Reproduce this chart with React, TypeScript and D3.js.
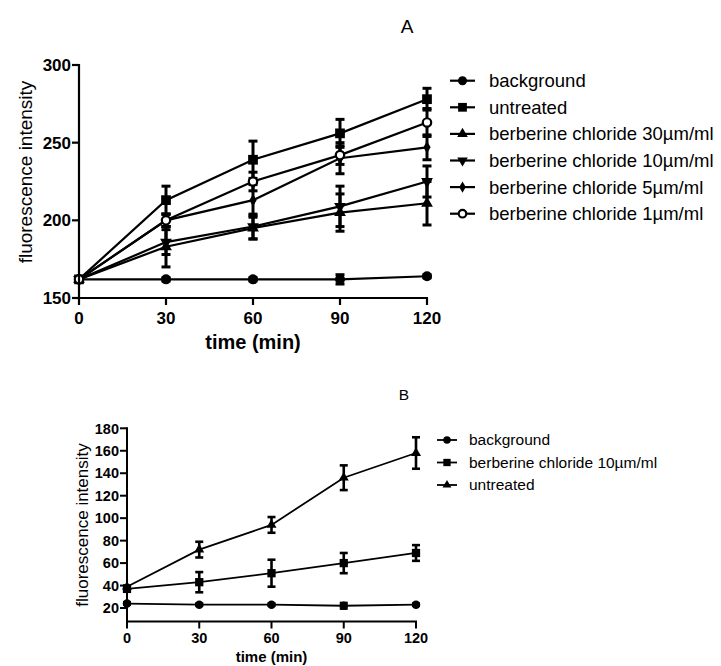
import React from "react";
import * as d3 from "d3";

// ---------- Data ----------
const timesA = [0, 30, 60, 90, 120];
const namesA = [
  "background",
  "untreated",
  "berberine chloride 30µm/ml",
  "berberine chloride 10µm/ml",
  "berberine chloride 5µm/ml",
  "berberine chloride 1µm/ml",
];
const markersA = ["circle", "square", "triangle", "triangleDown", "diamond", "openCircle"];
const backgroundA = [162, 162, 162, 162, 164];
const backgroundErrA = [1, 1, 1, 3, 1];
const untreatedA = [162, 213, 239, 256, 278];
const untreatedErrA = [1, 9, 12, 9, 7];
const bc30A = [162, 183, 195, 205, 211];
const bc30ErrA = [1, 13, 7, 12, 14];
const bc10A = [162, 186, 196, 209, 225];
const bc10ErrA = [1, 8, 8, 13, 10];
const bc5A = [162, 200, 213, 240, 247];
const bc5ErrA = [1, 4, 10, 10, 8];
const bc1A = [162, 200, 225, 242, 263];
const bc1ErrA = [1, 4, 6, 6, 9];
const yTicksA = [150, 200, 250, 300];
const xTicks = [0, 30, 60, 90, 120];

const timesB = [0, 30, 60, 90, 120];
const namesB = ["background", "berberine chloride 10µm/ml", "untreated"];
const markersB = ["circle", "square", "triangle"];
const backgroundB = [24, 23, 23, 22, 23];
const backgroundErrB = [1, 1, 1, 2.5, 1];
const bc10B = [37, 43, 51, 60, 69];
const bc10ErrB = [1, 9, 12, 9, 7];
const untreatedB = [39, 72, 94, 136, 158];
const untreatedErrB = [1, 7, 7, 11, 14];
const yTicksB = [20, 40, 60, 80, 100, 120, 140, 160, 180];

const seriesA = [
  { v: backgroundA, e: backgroundErrA },
  { v: untreatedA, e: untreatedErrA },
  { v: bc30A, e: bc30ErrA },
  { v: bc10A, e: bc10ErrA },
  { v: bc5A, e: bc5ErrA },
  { v: bc1A, e: bc1ErrA },
];
const seriesB = [
  { v: backgroundB, e: backgroundErrB },
  { v: bc10B, e: bc10ErrB },
  { v: untreatedB, e: untreatedErrB },
];

const FONT = "'Liberation Sans', Arial, sans-serif";

function Marker({ type, x, y, s }: { type: string; x: number; y: number; s: number }) {
  if (type === "openCircle") {
    return <circle cx={x} cy={y} r={s * 0.42} fill="#fff" stroke="#000" strokeWidth={2.2} />;
  }
  let sym: any = d3.symbolCircle;
  let area = Math.PI * (s / 2) * (s / 2);
  let rot = 0;
  if (type === "square") {
    sym = d3.symbolSquare;
    area = s * s * 0.95;
  } else if (type === "triangle" || type === "triangleDown") {
    sym = d3.symbolTriangle;
    area = s * s * 0.6;
    if (type === "triangleDown") rot = 180;
  } else if (type === "diamond") {
    sym = d3.symbolDiamond;
    area = s * s * 0.45;
  }
  const p = d3.symbol().type(sym).size(area)() as string;
  return <path d={p} transform={`translate(${x},${y}) rotate(${rot})`} fill="#000" />;
}

type PanelProps = {
  times: number[];
  series: { v: number[]; e: number[] }[];
  markers: string[];
  names: string[];
  yDomain: [number, number];
  yTicks: number[];
  xRange: [number, number];
  yRange: [number, number];
  tickFont: number;
  xTickBase: number;
  labelFont: number;
  xLabelFont: number;
  yLabelX: number;
  yLabelY: number;
  xLabelY: number;
  title: string;
  titleX: number;
  titleY: number;
  titleFont: number;
  legendLineX: [number, number];
  legendTextX: number;
  legendY0: number;
  legendDy: number;
  legendFont: number;
  markerSize: number;
  legendMarkerSize: number;
  lineW: number;
  errW: number;
  capW: number;
  axisW: number;
};

function Panel(p: PanelProps) {
  const x = d3.scaleLinear().domain([0, 120]).range(p.xRange);
  const y = d3.scaleLinear().domain(p.yDomain).range(p.yRange);
  const line = d3
    .line<number>()
    .x((_, i) => x(p.times[i]))
    .y((d) => y(d));
  const x0 = p.xRange[0];
  const yb = p.yRange[0];
  return (
    <g fontFamily={FONT} fill="#000">
      <text x={p.titleX} y={p.titleY} fontSize={p.titleFont} textAnchor="middle">
        {p.title}
      </text>
      {p.series.map((s, si) => (
        <path key={"l" + si} d={line(s.v) as string} fill="none" stroke="#000" strokeWidth={p.lineW} />
      ))}
      {p.series.map((s, si) =>
        s.v.map((v, i) => {
          const cx = x(p.times[i]);
          const top = y(v + s.e[i]);
          const bot = y(v - s.e[i]);
          return (
            <g key={"e" + si + "-" + i} stroke="#000" strokeWidth={p.errW}>
              <line x1={cx} x2={cx} y1={top} y2={bot} />
              <line x1={cx - p.capW / 2} x2={cx + p.capW / 2} y1={top} y2={top} />
              <line x1={cx - p.capW / 2} x2={cx + p.capW / 2} y1={bot} y2={bot} />
            </g>
          );
        })
      )}
      {p.series.map((s, si) =>
        s.v.map((v, i) => (
          <Marker key={"m" + si + "-" + i} type={p.markers[si]} x={x(p.times[i])} y={y(v)} s={p.markerSize} />
        ))
      )}
      <line x1={x0} x2={x0} y1={yb} y2={p.yRange[1] - 1} stroke="#000" strokeWidth={p.axisW} />
      <line x1={x0 - 1} x2={p.xRange[1] + 1} y1={yb} y2={yb} stroke="#000" strokeWidth={p.axisW} />
      {p.yTicks.map((t) => (
        <g key={"yt" + t}>
          <line x1={x0 - 7} x2={x0} y1={y(t)} y2={y(t)} stroke="#000" strokeWidth={p.axisW} />
          <text x={x0 - 8} y={y(t)} dy="0.36em" textAnchor="end" fontSize={p.tickFont} fontWeight="bold">
            {t}
          </text>
        </g>
      ))}
      {xTicks.map((t) => (
        <g key={"xt" + t}>
          <line x1={x(t)} x2={x(t)} y1={yb} y2={yb + 7} stroke="#000" strokeWidth={p.axisW} />
          <text x={x(t)} y={yb + p.xTickBase} textAnchor="middle" fontSize={p.tickFont} fontWeight="bold">
            {t}
          </text>
        </g>
      ))}
      <text
        transform={`translate(${p.yLabelX},${p.yLabelY}) rotate(-90)`}
        textAnchor="middle"
        fontSize={p.labelFont}
      >
        fluorescence intensity
      </text>
      <text
        x={(p.xRange[0] + p.xRange[1]) / 2}
        y={p.xLabelY}
        textAnchor="middle"
        fontSize={p.xLabelFont}
        fontWeight="bold"
      >
        time (min)
      </text>
      {p.names.map((n, i) => {
        const ly = p.legendY0 + i * p.legendDy;
        const mx = (p.legendLineX[0] + p.legendLineX[1]) / 2;
        return (
          <g key={"lg" + i}>
            <line x1={p.legendLineX[0]} x2={p.legendLineX[1]} y1={ly} y2={ly} stroke="#000" strokeWidth={p.lineW} />
            <Marker type={p.markers[i]} x={mx} y={ly} s={p.legendMarkerSize} />
            <text x={p.legendTextX} y={ly} dy="0.35em" fontSize={p.legendFont}>
              {n}
            </text>
          </g>
        );
      })}
    </g>
  );
}

export default function App() {
  return (
    <svg
      width={721}
      height={666}
      viewBox="0 0 721 666"
      style={{ position: "absolute", left: 0, top: 0, background: "#fff" }}
    >
      <rect width={721} height={666} fill="#fff" />
      <Panel
        times={timesA}
        series={seriesA}
        markers={markersA}
        names={namesA}
        yDomain={[150, 300]}
        yTicks={yTicksA}
        xRange={[79, 427]}
        yRange={[298, 65]}
        tickFont={17}
        xTickBase={26}
        labelFont={19}
        xLabelFont={20}
        yLabelX={32}
        yLabelY={172}
        xLabelY={349}
        title="A"
        titleX={407}
        titleY={33}
        titleFont={19}
        legendLineX={[450, 475]}
        legendTextX={489}
        legendY0={80.7}
        legendDy={26.6}
        legendFont={18.5}
        markerSize={10}
        legendMarkerSize={9}
        lineW={2.2}
        errW={3}
        capW={9}
        axisW={2.2}
      />
      <Panel
        times={timesB}
        series={seriesB}
        markers={markersB}
        names={namesB}
        yDomain={[8, 180]}
        yTicks={yTicksB}
        xRange={[127, 416]}
        yRange={[621.5, 428.3]}
        tickFont={14.5}
        xTickBase={21}
        labelFont={17}
        xLabelFont={15}
        yLabelX={88}
        yLabelY={525}
        xLabelY={662}
        title="B"
        titleX={404}
        titleY={400}
        titleFont={15.5}
        legendLineX={[437, 457]}
        legendTextX={469}
        legendY0={440}
        legendDy={22.5}
        legendFont={15.5}
        markerSize={8.5}
        legendMarkerSize={7.5}
        lineW={1.8}
        errW={2.6}
        capW={8}
        axisW={2}
      />
    </svg>
  );
}
